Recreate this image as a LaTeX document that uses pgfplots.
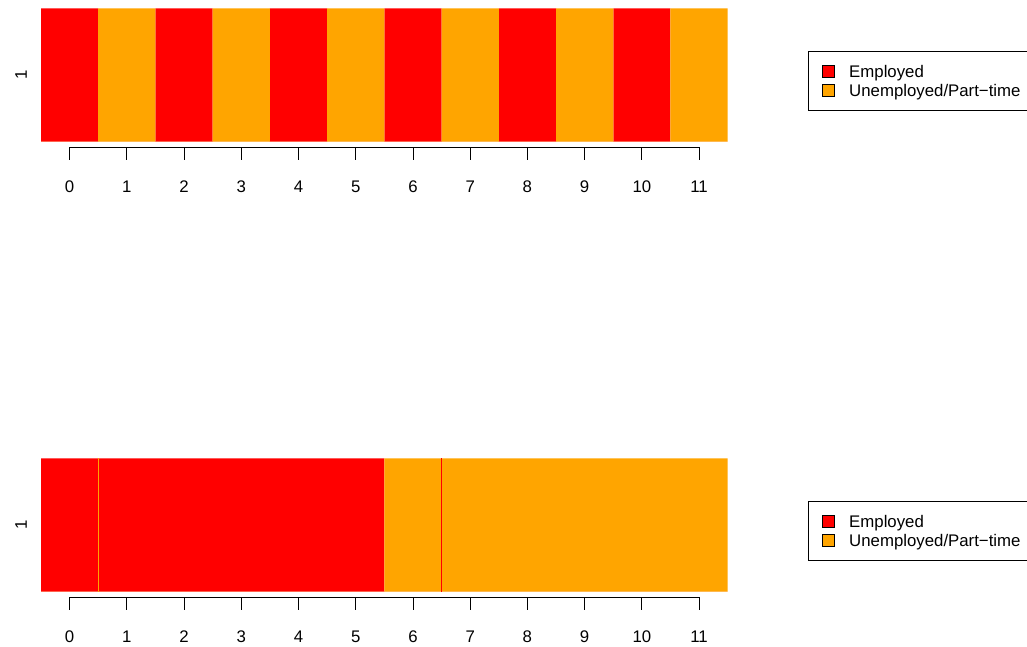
\documentclass[border=0pt]{standalone}
\usepackage{pgfplots}
\pgfplotsset{compat=1.18}
\usepackage{pgfplotstable}
\usepackage{fontspec}
\setmainfont{Liberation Sans}
\definecolor{cRed}{HTML}{FF0000}
\definecolor{cOrange}{HTML}{FFA500}

\pgfplotstableread{
x emp une
-0.5 1 0
0.5 0 1
1.5 1 0
2.5 0 1
3.5 1 0
4.5 0 1
5.5 1 0
6.5 0 1
7.5 1 0
8.5 0 1
9.5 1 0
10.5 0 1
11.5 0 0
}\topdata

\pgfplotstableread{
x emp une
-0.5 1 0
0.5 1 0
1.5 1 0
2.5 1 0
3.5 1 0
4.5 1 0
5.5 0 1
6.5 0 1
7.5 0 1
8.5 0 1
9.5 0 1
10.5 0 1
11.5 0 0
}\botdata

\newcommand{\fs}{\fontsize{16.8}{19}\selectfont}

\pgfplotsset{
  cellaxis/.style={
    scale only axis, width=686.7pt, height=133.4pt,
    anchor=south west,
    xmin=-0.5, xmax=11.5, ymin=0, ymax=1,
    axis line style={draw=none},
    clip=false,
    xtick={0,...,11}, ytick={0.5}, yticklabels={1},
    major tick length=0pt, tick style={draw=none},
    xticklabel style={font=\fs, anchor=center, yshift=-45pt},
    yticklabel style={font=\fs, xshift=-20pt, rotate=90, anchor=center},
    /pgf/number format/assume math mode=true,
    legend cell align=left,
    legend style={at={(1.1165,0.68)}, anchor=north west,
      draw=black, line width=0.9pt, fill=white,
      font=\fs, inner xsep=14pt, inner ysep=10.5pt, row sep=0.6pt,
      nodes={inner sep=0pt, text height=15.6pt, text depth=3.1pt}},
  },
  sq/.style={legend image code/.code={
      \path[draw=none, fill=none] (0pt,0pt) -- (27pt,0pt);
      \draw[fill=#1, draw=black, line width=0.7pt] (0.3pt,-5.8pt) rectangle (12.3pt,6.2pt);}},
}

\newcommand{\xaxisdeco}{%
  \draw[black, line width=0.9pt] ([yshift=-5.6pt]axis cs:0,0) -- ([yshift=-5.6pt]axis cs:11,0);
  \pgfplotsinvokeforeach{0,...,11}{%
    \draw[black, line width=0.9pt] ([yshift=-5.6pt]axis cs:##1,0) -- ([yshift=-18.3pt]axis cs:##1,0);}%
}

\begin{document}
\begin{tikzpicture}
\path[use as bounding box] (0,0) rectangle (1027pt,646pt);

\begin{axis}[cellaxis, at={(41pt,504.3pt)}]
  \addplot[ybar interval, fill=cRed, draw=none, forget plot] table[x=x, y=emp] {\topdata};
  \addplot[ybar interval, fill=cOrange, draw=none, forget plot] table[x=x, y=une] {\topdata};
  \addlegendimage{sq=cRed}
  \addlegendentry{Employed}
  \addlegendimage{sq=cOrange}
  \addlegendentry{Unemployed/Part−time}
  \xaxisdeco
\end{axis}

\begin{axis}[cellaxis, at={(41pt,54.3pt)}]
  \addplot[ybar interval, fill=cRed, draw=none, forget plot] table[x=x, y=emp] {\botdata};
  \addplot[ybar interval, fill=cOrange, draw=none, forget plot] table[x=x, y=une] {\botdata};
  \addplot[cOrange, line width=0.8pt, forget plot] coordinates {(0.5,0) (0.5,1)};
  \addplot[cRed, line width=0.8pt, forget plot] coordinates {(6.5,0) (6.5,1)};
  \addlegendimage{sq=cRed}
  \addlegendentry{Employed}
  \addlegendimage{sq=cOrange}
  \addlegendentry{Unemployed/Part−time}
  \xaxisdeco
\end{axis}
\end{tikzpicture}
\end{document}
